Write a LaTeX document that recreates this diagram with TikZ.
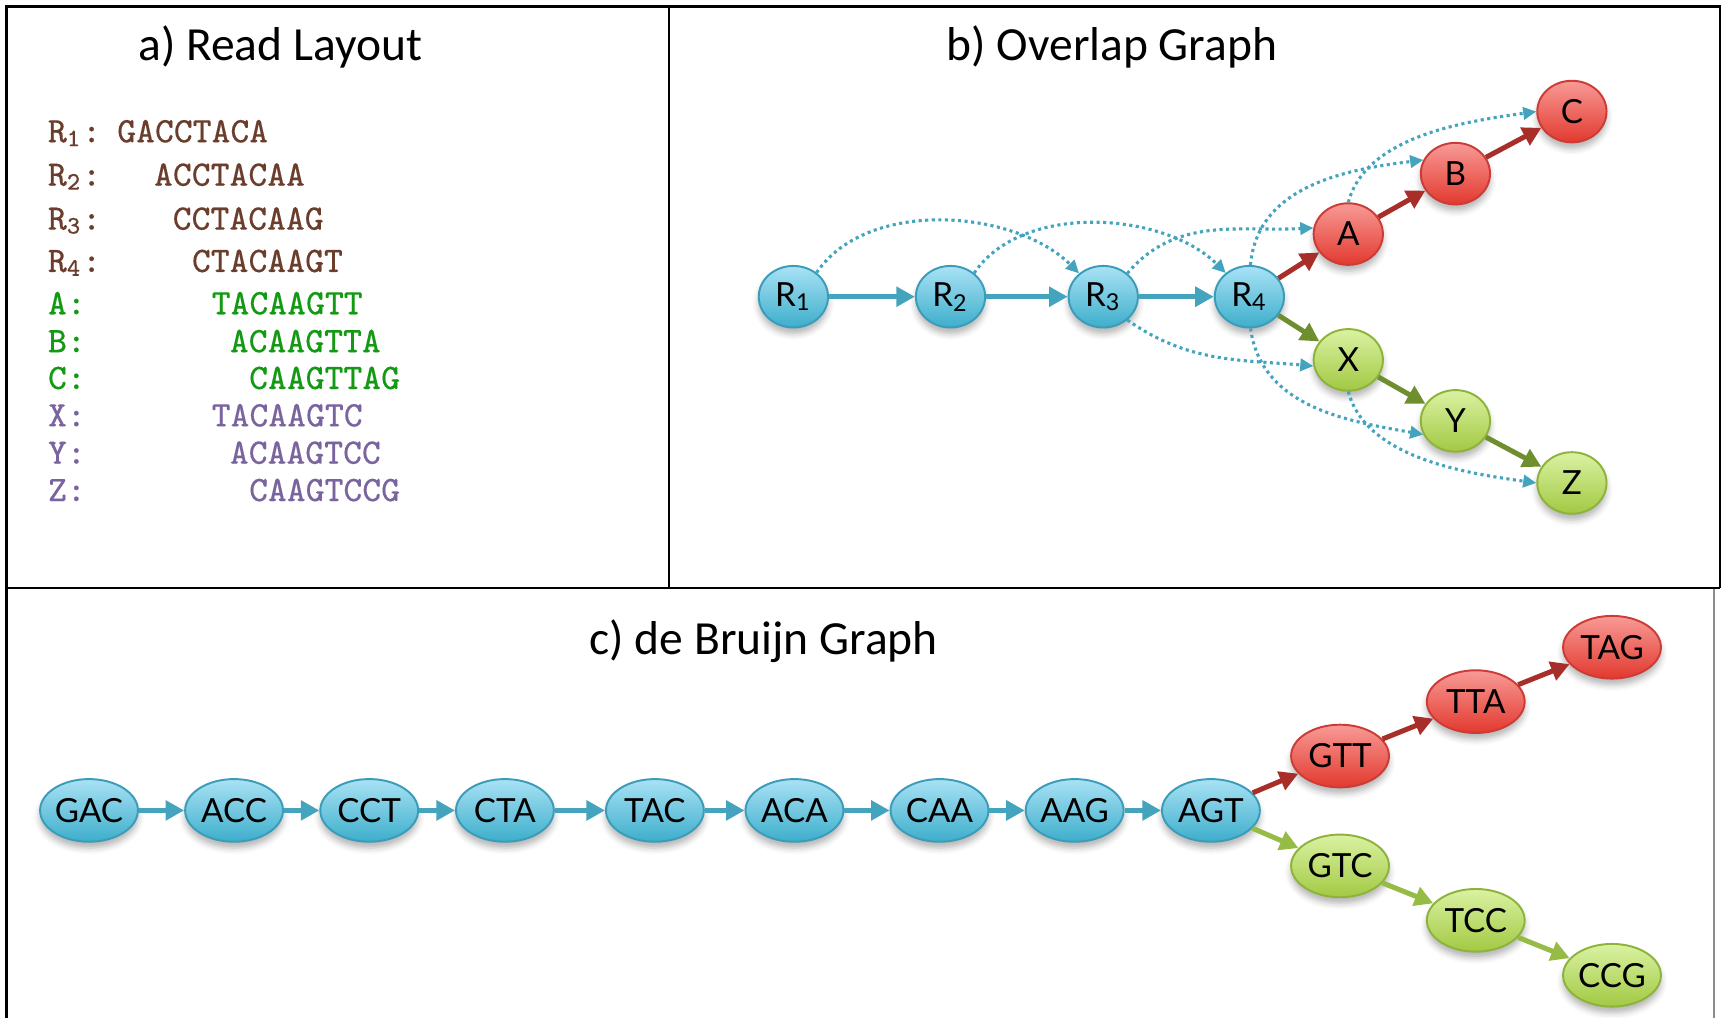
\documentclass[tikz,border=0pt]{standalone}
\usepackage{fontspec}
\setmainfont{Carlito}
\newfontfamily\gillfont{Lato}
\newfontfamily\seqfont[FakeBold=0.3]{Latin Modern Mono}
\usepackage{tikz}
\usetikzlibrary{arrows.meta}
\usetikzlibrary{shapes.geometric}
\usetikzlibrary{shadows.blur}

\definecolor{rdbrown}{HTML}{6B3D2D}
\definecolor{rdgreen}{HTML}{149914}
\definecolor{rdpurple}{HTML}{7A64A0}
\definecolor{tealln}{HTML}{45A4BD}
\definecolor{redln}{HTML}{A82E2A}
\definecolor{oliveln}{HTML}{6F8F2E}
\definecolor{limeln}{HTML}{97BC45}
\definecolor{bluetop}{HTML}{A9E2F5}
\definecolor{bluebot}{HTML}{3DAECB}
\definecolor{blueedge}{HTML}{3A9CB8}
\definecolor{redtop}{HTML}{F89A96}
\definecolor{redbot}{HTML}{E2392E}
\definecolor{rededge}{HTML}{CC3B35}
\definecolor{greentop}{HTML}{DAF2A2}
\definecolor{greenbot}{HTML}{A2C943}
\definecolor{greenedge}{HTML}{8DB33B}

\tikzset{tt/.style={font=\fontsize{12.3}{12.3}\selectfont, inner sep=0pt, anchor=base}}
\tikzset{sq/.style={font=\seqfont\fontsize{9.3}{9.3}\selectfont, inner sep=0pt, anchor=base west}}
\tikzset{nd/.style={ellipse, inner sep=0pt, line width=0.5pt, font=\gillfont\fontsize{8.6}{8.6}\selectfont,
    blur shadow={shadow xshift=0pt, shadow yshift=-1.6pt, shadow blur radius=1.6pt, shadow opacity=30}}}
\tikzset{ov/.style={nd, minimum width=0.63cm, minimum height=0.56cm}}
\tikzset{kn/.style={nd, minimum width=0.89cm, minimum height=0.57cm}}
\tikzset{bl/.style={draw=blueedge, top color=bluetop, bottom color=bluebot}}
\tikzset{rd/.style={draw=rededge, top color=redtop, bottom color=redbot}}
\tikzset{gr/.style={draw=greenedge, top color=greentop, bottom color=greenbot}}
\tikzset{ar/.style={line width=1.3pt, -{Triangle[length=4.8pt, width=5pt]}}}
\tikzset{dt/.style={tealln, line width=0.8pt, dash pattern=on 0.8pt off 0.9pt, -{Triangle[length=3.4pt, width=3.2pt]}}}
\tikzset{frame/.style={line width=0.6pt}}

\begin{document}
\begin{tikzpicture}[x=0.01cm, y=-0.01cm]
  \useasboundingbox (0,0) rectangle (1568,926);

  % panel frames
  \draw[frame] (6,926) -- (6,6) -- (1565,6) -- (1565,535);
  \draw[frame, black!45] (1560,535) -- (1560,926);
  \draw[frame] (609,6) -- (609,535);
  \draw[frame] (6,535) -- (1565,535);

  \node[tt] (ta) at (255,55) {a) Read Layout};
  \node[tt] (tb) at (1012,55) {b) Overlap Graph};
  \node[tt] (tc) at (695,596) {c) de Bruijn Graph};

  % reads
  \node[sq, rdbrown] (l1) at (43,129.5) {R\textsubscript{1}:};
  \node[sq, rdbrown] (s1) at (106,129.5) {GACCTACA};
  \node[sq, rdbrown] (l2) at (43,169) {R\textsubscript{2}:};
  \node[sq, rdbrown] (s2) at (139.5,169) {ACCTACAA};
  \node[sq, rdbrown] (l3) at (43,209) {R\textsubscript{3}:};
  \node[sq, rdbrown] (s3) at (156.5,209) {CCTACAAG};
  \node[sq, rdbrown] (l4) at (43,247.5) {R\textsubscript{4}:};
  \node[sq, rdbrown] (s4) at (174,247.5) {CTACAAGT};
  \node[sq, rdgreen] (la) at (43,286) {A:};
  \node[sq, rdgreen] (sa) at (192,286) {TACAAGTT};
  \node[sq, rdgreen] (lb) at (43,320.5) {B:};
  \node[sq, rdgreen] (sb) at (208.5,320.5) {ACAAGTTA};
  \node[sq, rdgreen] (lc) at (43,354) {C:};
  \node[sq, rdgreen] (sc) at (226,354) {CAAGTTAG};
  \node[sq, rdpurple] (lx) at (43,388) {X:};
  \node[sq, rdpurple] (sx) at (192,388) {TACAAGTC};
  \node[sq, rdpurple] (ly) at (43,422) {Y:};
  \node[sq, rdpurple] (sy) at (208.5,422) {ACAAGTCC};
  \node[sq, rdpurple] (lz) at (43,456) {Z:};
  \node[sq, rdpurple] (sz) at (226,456) {CAAGTCCG};

  % overlap graph
  \node[ov, bl] (R1) at (722,270) {R\textsubscript{1}};
  \node[ov, bl] (R2) at (865,270) {R\textsubscript{2}};
  \node[ov, bl] (R3) at (1004,270) {R\textsubscript{3}};
  \node[ov, bl] (R4) at (1137,270) {R\textsubscript{4}};
  \node[ov, rd] (A) at (1227,213) {A};
  \node[ov, rd] (B) at (1324.5,158) {B};
  \node[ov, rd] (C) at (1430.5,101.5) {C};
  \node[ov, gr] (X) at (1227,327.5) {X};
  \node[ov, gr] (Y) at (1324.5,383) {Y};
  \node[ov, gr] (Z) at (1430.5,439.5) {Z};

  \draw[ar, tealln] (R1) -- (R2);
  \draw[ar, tealln] (R2) -- (R3);
  \draw[ar, tealln] (R3) -- (R4);
  \draw[ar, redln] (R4) -- (A);
  \draw[ar, redln] (A) -- (B);
  \draw[ar, redln] (B) -- (C);
  \draw[ar, oliveln] (R4) -- (X);
  \draw[ar, oliveln] (X) -- (Y);
  \draw[ar, oliveln] (Y) -- (Z);

  % transitive overlaps
  \draw[dt] (R1.46) to[out=56, in=135, looseness=.88] (R3.136);
  \draw[dt] (R2.45) to[out=56, in=135, looseness=.88] (R4.135);
  \draw[dt] (R3.44) to[out=50, in=183] (A.170);
  \draw[dt] (R3.-44) to[out=-35, in=175] (X.190);
  \draw[dt] (R4.88) to[out=85, in=187] (B.157);
  \draw[dt] (R4.-88) to[out=-82, in=170] (Y.203);
  \draw[dt] (A.north) to[out=75, in=188, looseness=.85] (C.west);
  \draw[dt] (X.south) to[out=-75, in=172, looseness=.85] (Z.west);

  % de Bruijn graph
  \node[kn, bl] (gac) at (81,737.5) {GAC};
  \node[kn, bl] (acc) at (213,737.5) {ACC};
  \node[kn, bl] (cct) at (336,737.5) {CCT};
  \node[kn, bl] (cta) at (459.5,737.5) {CTA};
  \node[kn, bl] (tac) at (596,737.5) {TAC};
  \node[kn, bl] (aca) at (723,737.5) {ACA};
  \node[kn, bl] (caa) at (855,737.5) {CAA};
  \node[kn, bl] (aag) at (978,737.5) {AAG};
  \node[kn, bl] (agt) at (1102,737.5) {AGT};
  \node[kn, rd] (gtt) at (1219.5,688) {GTT};
  \node[kn, rd] (tta) at (1343,638.5) {TTA};
  \node[kn, rd] (tag) at (1467,589) {TAG};
  \node[kn, gr] (gtc) at (1219.5,788) {GTC};
  \node[kn, gr] (tcc) at (1343,837.5) {TCC};
  \node[kn, gr] (ccg) at (1467,887.5) {CCG};

  \draw[ar, tealln] (gac) -- (acc);
  \draw[ar, tealln] (acc) -- (cct);
  \draw[ar, tealln] (cct) -- (cta);
  \draw[ar, tealln] (cta) -- (tac);
  \draw[ar, tealln] (tac) -- (aca);
  \draw[ar, tealln] (aca) -- (caa);
  \draw[ar, tealln] (caa) -- (aag);
  \draw[ar, tealln] (aag) -- (agt);
  \draw[ar, redln] (agt) -- (gtt);
  \draw[ar, redln] (gtt) -- (tta);
  \draw[ar, redln] (tta) -- (tag);
  \draw[ar, limeln] (agt) -- (gtc);
  \draw[ar, limeln] (gtc) -- (tcc);
  \draw[ar, limeln] (tcc) -- (ccg);
\end{tikzpicture}
\end{document}
